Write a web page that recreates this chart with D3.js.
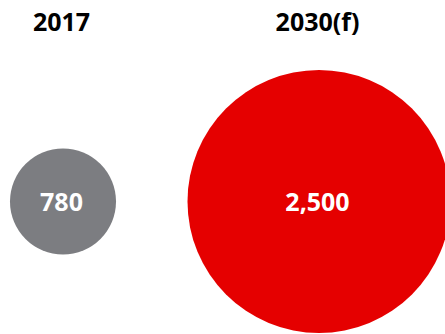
<!DOCTYPE html>
<html>
<head>
<meta charset="utf-8">
<script src="https://cdn.jsdelivr.net/npm/d3@7"></script>
<style>
  html, body { margin: 0; padding: 0; background: #fff; }
  svg { display: block; }
  text { font-family: "Open Sans", "Noto Sans", sans-serif; font-weight: 700; }
</style>
</head>
<body>
<div id="chart"></div>
<script>
// Years compared and their values
const categories = ["2017", "2030(f)"];
const values = [780, 2500];
const valueLabels = ["780", "2,500"];
const colors = ["#7c7d81", "#e50000"];

const width = 445, height = 334;

const svg = d3.select("#chart").append("svg")
  .attr("width", width)
  .attr("height", height);

// Horizontal position of each bubble
const x = d3.scalePoint()
  .domain(categories)
  .range([63, 319]);

// Bubble radius from value
const r = d3.scalePow()
  .exponent(0.78)
  .domain([0, 2500])
  .range([0, 131.5]);

const cy = 201.5;

const data = categories.map((c, i) => ({ cat: c, value: values[i], label: valueLabels[i], color: colors[i] }));

const g = svg.selectAll("g.bubble")
  .data(data)
  .join("g")
  .attr("class", "bubble");

g.append("circle")
  .attr("cx", d => x(d.cat))
  .attr("cy", cy)
  .attr("r", d => r(d.value))
  .attr("fill", d => d.color);

g.append("text")
  .attr("x", d => x(d.cat) - 1.5)
  .attr("y", 211)
  .attr("text-anchor", "middle")
  .attr("font-size", 25)
  .attr("fill", "#fff")
  .text(d => d.label);

// Year headings
g.append("text")
  .attr("x", d => x(d.cat) - 1.5)
  .attr("y", 31)
  .attr("text-anchor", "middle")
  .attr("font-size", 25)
  .attr("fill", "#000")
  .text(d => d.cat);
</script>
</body>
</html>
